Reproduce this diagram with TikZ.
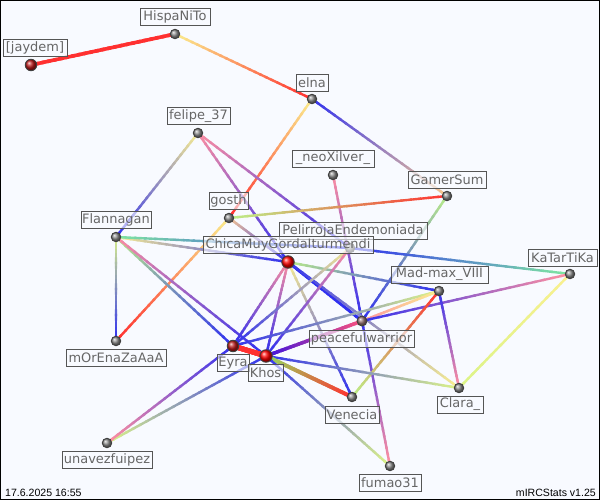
\documentclass[tikz,border=0pt]{standalone}
\usepackage{fontspec}
\setmainfont{DejaVu Sans}
\newfontfamily\stampfont{Liberation Sans}
\usetikzlibrary{calc,backgrounds}
\pgfdeclarelayer{edgelayer}
\pgfsetlayers{background,edgelayer,main}
\definecolor{paper}{HTML}{F8FAFF}
\definecolor{cb}{HTML}{3030F0}
\definecolor{cd}{HTML}{3810E0}
\definecolor{cr}{HTML}{FF3030}
\definecolor{cy}{HTML}{FAF090}
\definecolor{cg}{HTML}{BCF088}
\definecolor{cv}{HTML}{90E060}
\definecolor{cw}{HTML}{F85080}
\definecolor{cl}{HTML}{DCF488}
\definecolor{cp}{HTML}{FF90A0}
\definecolor{co}{HTML}{F8C890}
\definecolor{cm}{HTML}{80E8A0}
\definecolor{labtxt}{HTML}{666666}
\definecolor{labline}{HTML}{555555}
\tikzset{
  ballbase/.style={circle,inner sep=0pt,draw=black!75,line width=0.9pt},
  smallball/.style={ballbase,minimum size=9.5bp,ball color=black!45},
  redball/.style={ballbase,minimum size=12.5bp,ball color=red},
  darkball/.style={ballbase,minimum size=11.5bp,ball color=red!70!black!90},
  midball/.style={ballbase,minimum size=10bp,ball color=red!25!black!55},
  lab/.style={draw=labline,line width=0.8pt,fill=paper,fill opacity=0.62,text opacity=1,text=labtxt,
    inner sep=0pt,minimum height=17bp,align=center,font=\fontsize{13}{14}\selectfont},
  stamp/.style={inner sep=0pt,font=\stampfont\fontsize{10.6}{12}\selectfont,text=black}
}
\newcommand{\lnk}[5][2.4]{%
  \foreach \i in {1,...,24}{%
    \pgfmathtruncatemacro{\p}{100-(\i-0.5)*100/24}%
    \pgfmathsetmacro{\ta}{(\i-1)/24}%
    \pgfmathsetmacro{\tb}{\i/24}%
    \draw[line width=#1bp,line cap=rect,draw={#4!\p!#5}]
      ($(#2.center)!\ta!(#3.center)$) -- ($(#2.center)!\tb!(#3.center)$);
  }%
}
\begin{document}
\begin{tikzpicture}[x=1bp,y=-1bp]
\useasboundingbox (0,0) rectangle (600,500);
\begin{pgfonlayer}{background}
\fill[paper] (0,0) rectangle (600,500);
\draw[black,line width=1bp] (0.5,0.5) rectangle (599.5,499.5);
\end{pgfonlayer}
% balls
\node[darkball] (jay) at (31,65) {};
\node[smallball] (his) at (175,34) {};
\node[smallball] (eln) at (312,99) {};
\node[smallball] (fel) at (198,133) {};
\node[smallball] (neo) at (333,175) {};
\node[smallball] (gam) at (447,196) {};
\node[smallball] (gos) at (229,218) {};
\node[smallball] (fla) at (116,237) {};
\node[smallball] (pel) at (350,248) {};
\node[redball] (chi) at (288,262) {};
\node[smallball] (kat) at (570,274) {};
\node[smallball] (mad) at (439,291) {};
\node[midball] (pea) at (362,321) {};
\node[smallball] (mor) at (116,341) {};
\node[darkball] (eyr) at (233,346) {};
\node[redball] (kho) at (266,356) {};
\node[smallball] (ven) at (352,397) {};
\node[smallball] (cla) at (459,388) {};
\node[smallball] (una) at (107,443) {};
\node[smallball] (fum) at (390,466) {};
% connectors
\begin{pgfonlayer}{edgelayer}
\lnk[3.6]{jay}{his}{cr}{cr}
\lnk{his}{eln}{cy}{cr}
\lnk{eln}{gam}{cb}{co}
\lnk{eln}{gos}{cy}{cr}
\lnk{gos}{mor}{cy}{cr}
\lnk{fel}{fla}{cy}{cb}
\lnk{fel}{pel}{cp}{cb}
\lnk{fel}{chi}{cp}{cb}
\lnk{neo}{pea}{cp}{cb}
\lnk{pea}{fum}{cb}{cp}
\lnk{gam}{gos}{cr}{cg}
\lnk{gam}{pea}{cg}{cb}
\lnk{gos}{chi}{co}{cb}
\lnk{fla}{chi}{cy}{cb}
\lnk{fla}{pel}{cm}{cb}
\lnk{pel}{kat}{cb}{cm}
\lnk{chi}{mad}{cg}{cb}
\lnk{fla}{mor}{cl}{cb}
\lnk{fla}{eyr}{cg}{cb}
\lnk{fla}{kho}{cp}{cb}
\lnk{chi}{eyr}{cp}{cb}
\lnk{chi}{kho}{cp}{cb}
\lnk[2.8]{chi}{pea}{cb}{cb}
\lnk{chi}{cla}{cb}{cy}
\lnk{chi}{ven}{cy}{cb}
\lnk{pel}{eyr}{cy}{cb}
\lnk{pel}{kho}{cp}{cb}
\lnk[3.4]{kho}{pea}{cd}{cw}
\lnk{eyr}{mad}{cb}{cl}
\lnk{pea}{mad}{cp}{cy}
\lnk{pea}{kat}{cb}{cp}
\lnk{mad}{cla}{cb}{cp}
\lnk{mad}{ven}{cr}{cg}
\lnk{kat}{cla}{cy}{cl}
\lnk{kho}{cla}{cb}{cl}
\lnk[3.8]{kho}{ven}{cv}{cr}
\lnk[5]{kho}{eyr}{cr}{cr}
\lnk{kho}{fum}{cb}{cl}
\lnk{kho}{una}{cb}{cl}
\lnk{eyr}{una}{cb}{cp}
\end{pgfonlayer}
% labels
\node[lab,minimum width=64bp] (ljay) at (35,48) {[jaydem]};
\node[lab,minimum width=70bp] (lhis) at (175,17) {HispaNiTo};
\node[lab,minimum width=32bp] (leln) at (312,82.5) {elna};
\node[lab,minimum width=63bp] (lfel) at (198.5,116) {felipe\_37};
\node[lab,minimum width=82bp] (lneo) at (333,158.5) {\_neoXilver\_};
\node[lab,minimum width=78bp] (lgam) at (447,179.5) {GamerSum};
\node[lab,minimum width=39bp] (lgos) at (228.5,201) {gosth};
\node[lab,minimum width=148bp] (lpel) at (353,230.5) {PelirrojaEndemoniada};
\node[lab,minimum width=70bp] (lfla) at (116,220) {Flannagan};
\node[lab,minimum width=170bp] (lchi) at (288,245) {ChicaMuyGordaIturmendi};
\node[lab,minimum width=69bp] (lkat) at (562.5,257.5) {KaTarTiKa};
\node[lab,minimum width=97bp] (lmad) at (439.5,274.5) {Mad-max\_VIII};
\node[lab,minimum width=105bp] (lpea) at (361.5,338.5) {peacefulwarrior};
\node[lab,minimum width=100bp] (lmor) at (116,358) {mOrEnaZaAaA};
\node[lab,minimum width=32bp] (leyr) at (233,363) {Eyra};
\node[lab,minimum width=35bp] (lkho) at (265.5,373) {Khos};
\node[lab,minimum width=54bp] (lven) at (352,414.5) {Venecia};
\node[lab,minimum width=46bp] (lcla) at (460,404.5) {Clara\_};
\node[lab,minimum width=62bp] (lfum) at (390,483) {fumao31};
\node[lab,minimum width=90bp] (luna) at (107,459.5) {unavezfuipez};
% stamps
\node[stamp,anchor=base west] (date) at (5,496) {17.6.2025 16:55};
\node[stamp,anchor=base east] (ver) at (596,496) {mIRCStats v1.25};
\end{tikzpicture}
\end{document}
